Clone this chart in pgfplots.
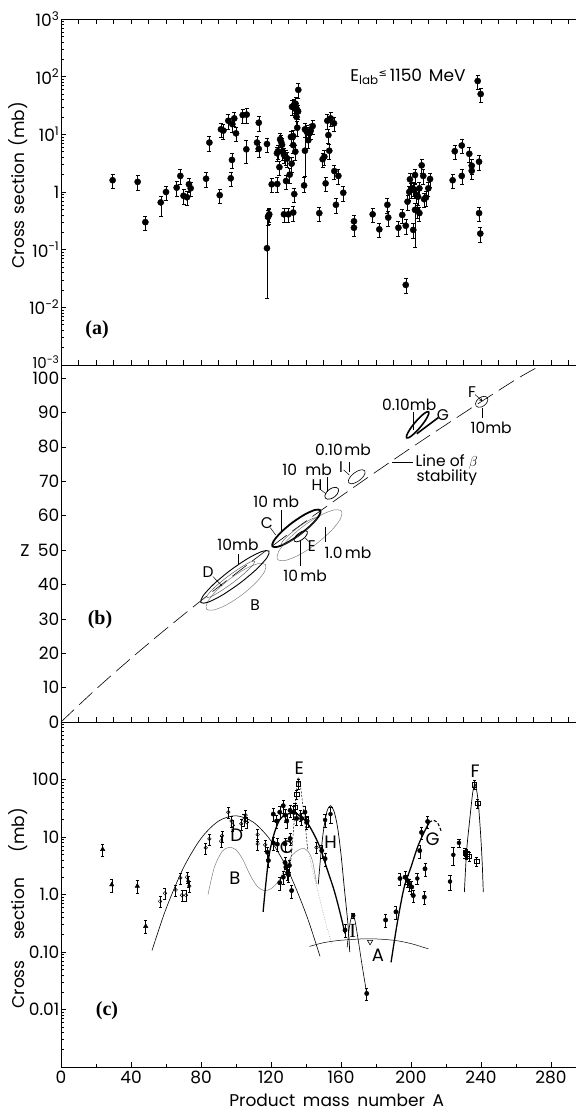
\documentclass[border=0pt]{standalone}
\usepackage{fontspec}
\setmainfont{Poppins}
\newfontfamily\serifp{Liberation Serif}
\newfontfamily\dvs{DejaVu Sans}
\usepackage{pgfplots}
\pgfplotsset{compat=1.18}
\newcommand{\lf}{\fontsize{17}{19}\selectfont}
\newcommand{\smf}{\fontsize{15.5}{17}\selectfont}
\begin{document}
\begin{tikzpicture}
\useasboundingbox (0pt,0pt) rectangle (576pt,1112pt);
\pgfplotsset{panel/.style={
  scale only axis, width=514.5pt, xmin=0, xmax=294, anchor=south west,
  axis x line*=box, axis y line*=left, axis line style={-, line width=0.7pt},
  tick align=inside, major tick length=5pt, minor tick length=3pt,
  tick style={black, line width=0.5pt},
  ticklabel style={font=\lf},
  yticklabel style={inner xsep=1.5pt},
  label style={font=\lf},
  /pgf/number format/assume math mode=true,
  clip=false,
},
dots/.style={only marks, mark=*, mark size=3.1pt, black,
  error bars/y dir=both, error bars/error bar style={line width=0.5pt, black},
  error bars/error mark options={rotate=90, mark size=2pt, line width=0.5pt, black}},
}
% ---------------- panel (a)
\begin{axis}[panel, at={(61pt,747pt)}, height=346pt, ymode=log, ymin=1e-3, ymax=1e3,
  xtick={0,10,...,290}, xticklabels={}, xtick pos=both,
  ytick={1e-3,1e-2,1e-1,1,1e1,1e2,1e3},
  yticklabels={\raisebox{6pt}{\fontsize{15}{15}\selectfont 10\textsuperscript{−3}},10\textsuperscript{−2},10\textsuperscript{−1},1,10\textsuperscript{1},10\textsuperscript{2},10\textsuperscript{3}},
  ylabel={Cross\hspace{0.35em}section\hspace{0.35em}(mb)},
  ylabel style={at={(axis description cs:-0.084,0.52)}, anchor=center},
]
\addplot[dots, error bars/y fixed relative=0.28] coordinates {
(29.5,1.6)(43.8,1.5)(48.2,0.30)(60,1.0)(66.1,1.19)(68.2,1.9)(70,0.86)(72,0.81)
(73.1,1.36)(74.1,1.16)(82.9,1.7)(84.8,7.2)(90.7,0.88)(91.4,12.2)(92.8,11.6)
(95.6,17.2)(97,1.73)(97.7,3.6)(97.9,15)(99,18.9)(100,10.4)(103.8,21.6)(106.1,22)
(112,7.2)(113,15.9)(113,5.6)(117.7,6.8)(118.3,0.37)(118.6,0.39)(119,0.41)
(120.4,1.36)(123.6,1.38)(124.8,2.7)(123.4,4.7)(124,5.1)(125.2,8.2)(125.8,7.4)
(126.3,6.6)(126.7,5.0)(127.4,4.4)(128.3,4.1)(129.2,3.8)(128.6,1.55)(127.4,0.41)
(129.9,0.41)(132.7,0.44)(130.7,2.0)(131.8,3.1)(133.3,0.92)(131.4,9.0)(132.7,9.3)
(132.7,6.5)(133.9,5.0)(132,30)(133,32)(134,34)(133.5,28)(134.8,27)(135.5,25)
(134.6,20)(135,13)(135.6,59)(139.4,12.2)(140.4,11.1)(141.3,7.9)(141.9,10.4)
(142.7,11.6)(143.8,13.9)(147.6,0.43)(149.5,3.7)(150.5,4.1)(151.2,1.41)(152.2,17.2)
(154.1,18.9)(156,15.5)(152.8,9.7)(153.3,5.2)(156.2,2.3)(157.1,0.6)(158.5,1.9)
(161.3,0.97)(167.4,0.31)(167.4,0.24)(178.1,0.41)(181.9,0.225)(186.5,0.6)(187,0.36)
(192.8,0.24)(195,0.4)(197,0.26)(197,0.0245)(201.3,0.22)(198,0.68)(199,1.0)(200,1.1)
(201,1.16)(202,1.08)(203,0.89)(204,0.83)(204.8,1.16)(203.5,0.49)(204.8,0.43)
(199.4,1.66)(202.3,1.97)(206.1,2.9)(207,1.9)(209.9,1.16)(210.9,1.68)(207.5,0.75)
(208.5,0.8)(223.8,1.6)(225,5.1)(229,6.4)(229,1.9)(233.3,4.6)(234.7,2.86)(234.7,2.33)
(238.1,84)(239.8,50)(238.9,3.35)(238.9,0.43)(239.6,0.19)
};
\addplot[dots, error bars/y explicit] coordinates {
(57,0.66) += (0,0.18) -= (0,0.28)
(105.9,5.5) += (0,2.5) -= (0,2.4)
(117.7,0.106) += (0,0.25) -= (0,0.0915)
(139.4,5.2) += (0,8) -= (0,3.3)
(138.9,1.3) += (0,0.5) -= (0,0.3)
(202.3,0.49) += (0,0.15) -= (0,0.38)
};
\node[font=\serifp\bfseries\fontsize{20}{20}\selectfont] at (axis cs:20.6,0.0041) {(a)};
\node[font=\lf] at (axis cs:198.3,98) {E\textsubscript{lab}\raisebox{5pt}{\dvs\fontsize{10}{10}\selectfont ≤}\,1150\hspace{0.4em}MeV};
\end{axis}
% ---------------- panel (b)
\begin{axis}[panel, at={(61pt,390pt)}, height=357pt, ymin=0, ymax=103.8,
  xtick={0,10,...,290}, xticklabels={}, xtick pos=left,
  ytick={0,10,...,100},
]
\addplot[black, line width=0.6pt, dash pattern=on 18pt off 7pt, smooth] coordinates {
(0,0)(20,9.55)(40,18.5)(60,27.05)(80,35.27)(100,43.2)(120,50.9)(140,58.4)(160,65.65)
(180,72.74)(200,79.7)(220,86.45)(240,93.1)(260,99.6)(271,102.8)};
% B (thin grey)
\addplot[gray, line width=0.5pt, smooth cycle] coordinates {
(116.88,45.77)(112.9,46.06)(105.46,44.55)(96.56,41.62)(88.58,38.07)(83.66,34.86)
(83.12,32.83)(87.1,32.54)(94.54,34.05)(103.44,36.98)(111.42,40.53)(116.34,43.74)};
% 1.0 mb contour
\addplot[gray, line width=0.5pt, smooth cycle] coordinates {
(160.25,61.3)(155.92,61.64)(147.86,60.01)(138.22,56.85)(129.6,53.01)(124.3,49.52)
(123.75,47.3)(128.08,46.96)(136.14,48.59)(145.78,51.75)(154.4,55.59)(159.7,59.08)};
% D outer
\addplot[black, line width=0.9pt, smooth cycle] coordinates {
(118.88,49.67)(114.89,49.60)(106.76,47.54)(96.65,44.06)(87.28,40.08)(81.15,36.66)
(79.92,34.73)(83.91,34.80)(92.04,36.86)(102.15,40.34)(111.52,44.32)(117.65,47.74)};
% D inner
\addplot[black!70, line width=0.4pt, smooth cycle] coordinates {
(110.69,46.75)(108.17,46.51)(102.66,44.92)(95.62,42.43)(88.96,39.68)(84.45,37.41)
(83.31,36.25)(85.83,36.49)(91.34,38.08)(98.38,40.57)(105.04,43.32)(109.55,45.59)};
% C outer (thick)
\addplot[black, line width=1.8pt, smooth cycle] coordinates {
(148.19,61.55)(145.16,61.66)(139.26,60.33)(132.09,57.93)(125.56,55.09)(121.44,52.56)
(120.81,51.05)(123.84,50.94)(129.74,52.27)(136.91,54.67)(143.44,57.51)(147.56,60.04)};
% C inner
\addplot[black!70, line width=0.4pt, smooth cycle] coordinates {
(146.04,59.35)(144.09,59.24)(139.98,58.12)(134.8,56.31)(129.94,54.28)(126.71,52.58)
(125.96,51.65)(127.91,51.76)(132.02,52.88)(137.2,54.69)(142.06,56.72)(145.29,58.42)};
% E
\addplot[black, line width=0.8pt, smooth cycle] coordinates {
(140.65,55.4)(139.56,55.62)(137.79,55.4)(135.8,54.81)(134.13,54)(133.24,53.2)
(133.35,52.6)(134.44,52.38)(136.21,52.6)(138.2,53.19)(139.87,54)(140.76,54.8)};
% H
\addplot[black, line width=0.7pt, smooth cycle] coordinates {
(158.35,67.9)(157.09,68.23)(155.19,68.1)(153.15,67.54)(151.53,66.7)(150.77,65.81)
(151.05,65.1)(152.31,64.77)(154.21,64.9)(156.25,65.46)(157.87,66.3)(158.63,67.19)};
% I
\addplot[black, line width=0.6pt, smooth cycle] coordinates {
(173.56,73.05)(172.18,73.34)(169.94,73.08)(167.45,72.34)(165.38,71.33)(164.28,70.3)
(164.44,69.55)(165.82,69.26)(168.06,69.53)(170.55,70.26)(172.62,71.28)(173.72,72.3)};
% G
\addplot[black, line width=1.6pt, smooth cycle] coordinates {
(210.04,90.19)(208.43,90.01)(205.59,88.86)(202.27,87.05)(199.35,85.08)(197.63,83.45)
(197.56,82.61)(199.17,82.79)(202.01,83.94)(205.33,85.75)(208.25,87.72)(209.97,89.35)};
\addplot[black, line width=1.6pt] coordinates {(203.3,83.8)(215.6,88.5)};
% F
\addplot[black, line width=0.6pt, smooth cycle] coordinates {
(243.59,94.32)(242.39,94.68)(240.66,94.61)(238.85,94.14)(237.46,93.39)(236.87,92.56)
(237.21,91.88)(238.41,91.52)(240.14,91.59)(241.95,92.06)(243.34,92.81)(243.93,93.64)};
% labels and leaders
\begin{scope}[every node/.style={font=\smf, inner sep=0pt}, line width=0.5pt]
\node at (axis cs:101.1,51.5) {10mb};
\draw (axis cs:101.1,48.8) -- (axis cs:101.1,45.6);
\node at (axis cs:84,43.6) {D};
\draw (axis cs:86.8,42.3) -- (axis cs:92,39.6);
\node at (axis cs:110.9,34) {B};
\node at (axis cs:123,64) {10\hspace{0.3em}mb};
\draw (axis cs:126.1,61.6) -- (axis cs:126.1,55.6);
\node at (axis cs:117.7,57.8) {C};
\draw (axis cs:119.6,56.5) -- (axis cs:122.6,54.4);
\node at (axis cs:139.5,42.6) {10\hspace{0.15em}mb};
\draw (axis cs:136.6,45.3) -- (axis cs:136.6,52.5);
\node at (axis cs:143.4,51.2) {E};
\draw (axis cs:141.5,52.5) -- (axis cs:139.5,53.5);
\node at (axis cs:164,49.1) {1.0\hspace{0.15em}mb};
\draw (axis cs:150.9,56.7) -- (axis cs:150.9,52.3);
\node at (axis cs:140.6,73.3) {\mbox{10~~mb}};
\draw (axis cs:152,71.2) -- (axis cs:152,66.9);
\node at (axis cs:146.3,68.9) {H};
\draw (axis cs:148.3,67.6) -- (axis cs:151.5,66.3);
\node at (axis cs:161.1,79.1) {0.10\hspace{0.1em}mb};
\node at (axis cs:160,74.1) {I};
\draw (axis cs:161.5,73.3) -- (axis cs:164.8,71.8);
\draw (axis cs:164.6,75.6) -- (axis cs:164.6,72.8);
\node at (axis cs:199,92.2) {0.10mb};
\draw (axis cs:201.1,90.1) -- (axis cs:201.1,84.9);
\node at (axis cs:218.3,89.2) {G};
\node at (axis cs:234.9,96) {F};
\draw[-stealth] (axis cs:236.6,95.2) -- (axis cs:240.8,93.3);
\node at (axis cs:245.8,85.5) {10mb};
\draw (axis cs:240.6,91.4) -- (axis cs:240.6,88.3);
\node[anchor=west] at (axis cs:202.5,75.6) {Line of $\beta$};
\node[anchor=west] at (axis cs:203,71.2) {stability};
\draw (axis cs:189.1,75.6) -- (axis cs:201.1,75.6);
\end{scope}
\node[font=\serifp\bfseries\fontsize{20}{20}\selectfont] at (axis cs:22.3,29.7) {(b)};
\node[font=\lf] at (axis cs:-20.6,49.8) {Z};
\end{axis}
% ---------------- panel (c)
\begin{axis}[panel, at={(61pt,45pt)}, height=345pt, ymode=log, ymin=1e-3, ymax=1e3,
  xtick={0,40,...,280}, minor xtick={20,60,...,260}, xtick pos=left,
  xticklabels={0,40,80,120,160,200,240,280},
  ytick={1e-3,1e-2,1e-1,1,1e1,1e2,1e3},
  yticklabels={,0.01,0.10,1.0,10,100,},
  ylabel={Cross\hspace{1.2em}section\hspace{1.5em}(mb)},
  ylabel style={at={(axis description cs:-0.084,0.46)}, anchor=center},
  xlabel={Product\hspace{0.45em}mass\hspace{0.45em}number\hspace{0.45em}A},
  xlabel style={at={(axis description cs:0.536,0)}, anchor=center, yshift=-33pt},
]
% curves
\addplot[black, line width=0.6pt, smooth] coordinates {(52,0.106)(60,0.562)(70,2.92)(80,9.44)(90,18.9)(100,23.4)(110,18.0)(120,8.57)(130,2.53)(140,0.46)(148,0.084)};
\addplot[gray, line width=0.5pt, smooth] coordinates {(84,1.0)(86,1.9)(88,3.2)(92,5.6)(96,6.6)(100,6.0)(104,4.0)(108,2.2)(112,1.4)(116,1.17)(120,1.26)(124,1.66)(128,2.8)(132,4.8)(136,6.0)(139,6.3)(142,5.2)(144,3.5)(146,1.55)};
\addplot[black, line width=1.3pt, smooth] coordinates {(115.5,0.5)(117,1.5)(119,5)(122,12)(125,20)(128,24)(132,26)(136,24)(140,19)(144,12)(148,6.6)(152,2.8)(156,1.2)(159,0.55)(162.3,0.21)};
\addplot[black, line width=0.5pt, dash pattern=on 2pt off 1.5pt, smooth] coordinates {(131,3)(133,15)(134.5,60)(135.6,110)(137,70)(138.5,30)(140,12)(141,6)};
\addplot[gray!70, line width=0.5pt, dash pattern=on 1pt off 1.5pt, smooth] coordinates {(140.4,7.6)(144,2.5)(148,0.8)(151.5,0.3)(154.7,0.14)};
\addplot[black, line width=0.7pt, smooth] coordinates {(147,1.5)(148.5,5)(150,13)(152,28)(154,35)(156,28)(158,15)(160,5)(162,1.2)(164,0.3)(165,0.1)};
\addplot[black, line width=0.6pt, smooth] coordinates {(163.5,0.12)(165,0.3)(166.5,0.43)(168,0.35)(170,0.15)(172,0.06)(174.7,0.019)};
\addplot[black, line width=0.5pt, smooth] coordinates {(142,0.125)(150,0.145)(160,0.16)(176,0.17)(190,0.16)(200,0.14)(210,0.113)};
\addplot[black, line width=1.3pt, smooth] coordinates {(188.6,0.066)(192,0.3)(196,1.3)(200,3)(204,7)(208,13)(210.5,18)};
\addplot[black, line width=1.1pt, dash pattern=on 3pt off 2pt, smooth] coordinates {(210.5,18)(213,19.5)(215.5,17)(217.5,12)};
\addplot[black, line width=0.7pt, smooth] coordinates {(230.5,1.1)(231.8,5.8)(233.7,22)(235.3,60)(236.5,84)(237.5,65)(238.5,38)(239.8,11)(240.7,3.5)(241.3,1.1)};
% data: filled triangles
\addplot[only marks, mark=triangle*, mark size=2.6pt, black, error bars/y dir=both, error bars/y fixed relative=0.25,
  error bars/error bar style={line width=0.5pt}, error bars/error mark options={rotate=90, mark size=1.6pt, line width=0.5pt}] coordinates {
(23.8,6.1)(29,1.48)(43.6,1.4)(48.4,0.28)};
% open circles
\addplot[only marks, mark=o, mark size=1.8pt, black, mark options={line width=0.5pt}, error bars/y dir=both, error bars/y fixed relative=0.22,
  error bars/error bar style={line width=0.5pt}, error bars/error mark options={rotate=90, mark size=1.5pt, line width=0.5pt}] coordinates {
(56.6,0.76)(59.4,1.05)(65.5,1.2)(68.2,1.95)(69.2,0.97)(71.4,0.97)(72,2.0)(72.7,1.7)(73.3,1.4)
(82.7,6.5)(84.8,9.3)(91.5,8.5)(92,10.5)(95.6,27)(97.5,19)(98.2,16)(103,17)(104.5,20)(105.5,24)
(106.2,18)(112.4,11)(112.4,7.6)(116.7,7.3)(136.6,24)(141,19)(146,6.6)};
% filled circles
\addplot[only marks, mark=*, mark size=2.2pt, black, error bars/y dir=both, error bars/y fixed relative=0.25,
  error bars/error bar style={line width=0.5pt}, error bars/error mark options={rotate=90, mark size=1.5pt, line width=0.5pt}] coordinates {
(118,5.4)(118.5,3.9)(121.3,7.9)(123.6,7.5)(125,1.6)(127,2.0)(128,3.6)(128.5,3.0)(129.5,2.4)
(130,2.2)(130.5,3.2)(131.8,1.17)(121.3,25)(123.2,19)(125,27)(127,35)(128,24)(129,19)(130.9,29)
(132.8,27)(134.7,21)(137.5,21)(139.4,27)(128,7.6)(130.9,9.4)(140.4,18)(149,5.8)(150.9,4.2)
(162.3,0.24)(174.7,0.019)(185.5,0.36)(191.4,0.5)(196.6,2.0)(198,1.75)(199,1.5)(200.4,1.35)
(201.3,0.96)(205,5.8)(206,12)(207.6,0.9)(208,2.8)(209.5,18.6)(193.7,1.9)};
% open squares
\addplot[only marks, mark=square, mark size=2.2pt, black, mark options={line width=0.5pt}, error bars/y dir=both, error bars/y fixed relative=0.18,
  error bars/error bar style={line width=0.5pt}, error bars/error mark options={rotate=90, mark size=1.6pt, line width=0.5pt}] coordinates {
(135.6,84)(134.7,56)(133.7,33)(236.2,81)(238.1,39)(230.9,5.3)(231.8,5.1)(233.3,4.6)(237.5,3.75)};
% bare error bars
\addplot[only marks, mark=none, black, error bars/y dir=both, error bars/y explicit,
  error bars/error bar style={line width=0.6pt}, error bars/error mark options={rotate=90, mark size=2pt, line width=0.6pt}] coordinates {
(224.2,4.9) +- (0,1.7)
(222.3,1.68) +- (0,0.52)
(227.4,7.9) +- (0,1.35)
(150.9,19.8) +- (0,5.2)
(154,25) +- (0,8)
(203.6,1.9) +- (0,0.4)
(167,0.43) +- (0,0.05)};
% A upper limit arrow
\addplot[only marks, mark=triangle, mark size=3pt, black, mark options={rotate=180, line width=0.6pt}] coordinates {(176.6,0.15)};
% labels
\begin{scope}[every node/.style={font=\fontsize{18}{20}\selectfont, inner sep=0pt}]
\node at (axis cs:136.2,157) {E};
\node at (axis cs:236.6,138) {F};
\node at (axis cs:100.4,10.6) {D};
\node at (axis cs:129,6.65) {C};
\node at (axis cs:99.4,1.9) {B};
\node at (axis cs:154.1,8.1) {H};
\node[font=\serifp\fontsize{20}{20}\selectfont] at (axis cs:166.7,0.237) {I};
\node at (axis cs:181.1,0.087) {A};
\node at (axis cs:212.4,9.3) {G};
\end{scope}
\node[font=\serifp\bfseries\fontsize{20}{20}\selectfont] at (axis cs:26.3,0.0096) {(c)};
\end{axis}
\end{tikzpicture}
\end{document}
